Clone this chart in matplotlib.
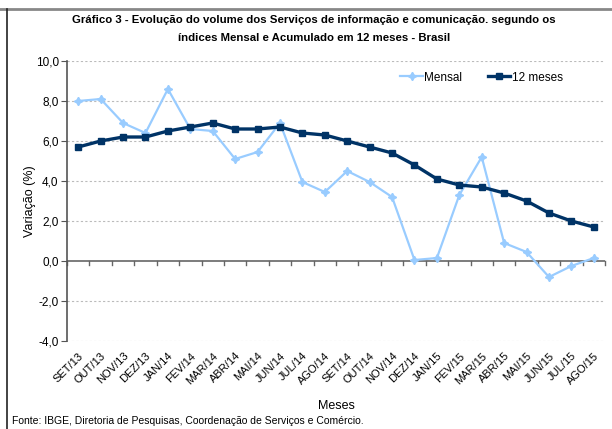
import matplotlib
matplotlib.use("Agg")
import matplotlib.pyplot as plt
from matplotlib.lines import Line2D

plt.rcParams['font.family'] = ['Liberation Sans', 'DejaVu Sans']

meses = ['SET/13', 'OUT/13', 'NOV/13', 'DEZ/13', 'JAN/14', 'FEV/14', 'MAR/14', 'ABR/14',
         'MAI/14', 'JUN/14', 'JUL/14', 'AGO/14', 'SET/14', 'OUT/14', 'NOV/14', 'DEZ/14',
         'JAN/15', 'FEV/15', 'MAR/15', 'ABR/15', 'MAI/15', 'JUN/15', 'JUL/15', 'AGO/15']
mensal = [8.0, 8.1, 6.9, 6.4, 8.6, 6.6, 6.5, 5.1, 5.45, 6.9, 3.95, 3.45,
          4.5, 3.95, 3.2, 0.05, 0.15, 3.3, 5.2, 0.9, 0.45, -0.8, -0.25, 0.15]
doze_meses = [5.7, 6.0, 6.2, 6.2, 6.5, 6.7, 6.9, 6.6, 6.6, 6.7, 6.4, 6.3,
              6.0, 5.7, 5.4, 4.8, 4.1, 3.8, 3.7, 3.4, 3.0, 2.4, 2.0, 1.7]
yticks = [-4, -2, 0, 2, 4, 6, 8, 10]

fig = plt.figure(figsize=(6.12, 4.29), dpi=100)
ax = fig.add_axes([0.1095, 0.2051, 0.8791, 0.6527])

x = list(range(len(meses)))
ax.plot(x, mensal, color='#99CCFF', lw=1.6, marker=(4, 1, 0), ms=6,
        label='Mensal', zorder=3)
ax.plot(x, doze_meses, color='#003366', lw=2.4, marker='s', ms=4.5,
        label='12 meses', zorder=4)

ax.set_xlim(-0.5, len(meses) - 0.5)
ax.set_ylim(-4, 10)
ax.set_yticks(yticks)
ax.set_yticklabels([f'{v:.1f}'.replace('.', ',') for v in yticks], fontsize=8.5)
for v in yticks:
    if v != 0:
        ax.axhline(v, color='#BBBBBB', lw=0.8, ls=(0, (2, 2)), zorder=1)

for s in ['top', 'right', 'bottom']:
    ax.spines[s].set_visible(False)
ax.spines['left'].set_color('#555555')
ax.spines['left'].set_linewidth(1.2)
ax.axhline(0, color='#666666', lw=1.2, zorder=2)
# category boundary ticks on the zero line
for b in range(len(meses) + 1):
    ax.plot([b - 0.5, b - 0.5], [0, -0.2], color='#666666', lw=1.0, zorder=2,
            clip_on=False)
ax.tick_params(axis='y', length=4, color='#555555', pad=2)
ax.tick_params(axis='x', length=0, pad=7)
ax.set_xticks(x)
ax.set_xticklabels(meses, rotation=45, ha='right', va='top',
                   rotation_mode='anchor', fontsize=8)

ax.set_ylabel('Variação (%)', fontsize=9)
ax.yaxis.set_label_coords(-0.058, 0.5)
fig.text(0.549, 0.053, 'Meses', fontsize=9, ha='center', va='center')
fig.text(0.02, 0.018, 'Fonte: IBGE, Diretoria de Pesquisas, Coordenação de Serviços e Comércio.',
         fontsize=7.5, ha='left', va='center')
fig.text(0.513, 0.953, 'Gráfico 3 - Evolução do volume dos Serviços de informação e comunicação. segundo os',
         fontsize=8.2, fontweight='bold', ha='center', va='center')
fig.text(0.513, 0.911, 'índices Mensal e Acumulado em 12 meses - Brasil',
         fontsize=8.2, fontweight='bold', ha='center', va='center')

ax.legend(loc='upper left', bbox_to_anchor=(0.6, 1.0), ncol=2, frameon=False,
          fontsize=8.5, handlelength=1.9, handletextpad=0.1, columnspacing=2.2)

# outer frame of the chart area
fig.add_artist(Line2D([0.0, 1.0], [0.978, 0.978], color='#888888', lw=2.0,
                      transform=fig.transFigure))
fig.add_artist(Line2D([0.0115, 0.0115], [0.0, 0.978], color='#222222', lw=1.2,
                      transform=fig.transFigure))

fig.savefig('out.png', dpi=100)
